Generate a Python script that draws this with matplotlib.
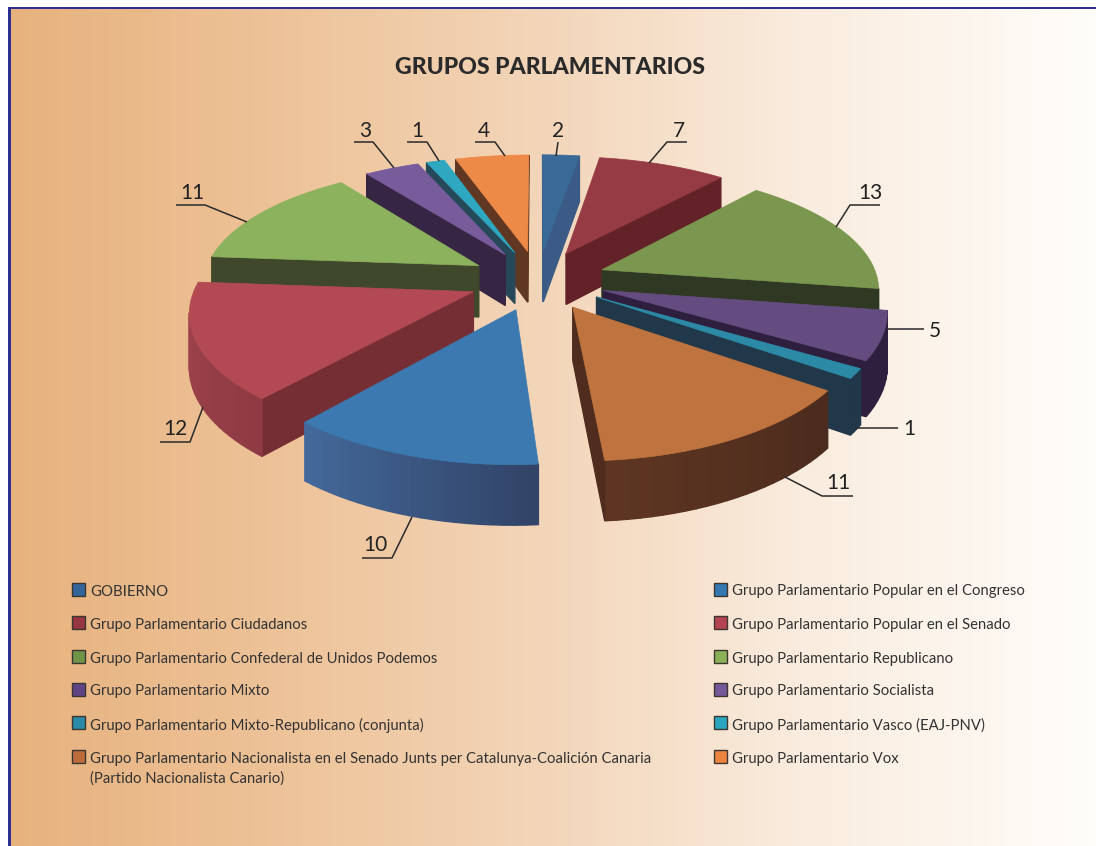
import numpy as np
import matplotlib
matplotlib.use("Agg")
import matplotlib.pyplot as plt
from matplotlib.patches import Rectangle
from matplotlib.colors import to_rgb

# ---- data
series_names = ["GOBIERNO", "Grupo Parlamentario Ciudadanos",
    "Grupo Parlamentario Confederal de Unidos Podemos", "Grupo Parlamentario Mixto",
    "Grupo Parlamentario Mixto-Republicano (conjunta)",
    "Grupo Parlamentario Nacionalista en el Senado Junts per Catalunya-Coalición Canaria\n(Partido Nacionalista Canario)",
    "Grupo Parlamentario Popular en el Congreso", "Grupo Parlamentario Popular en el Senado",
    "Grupo Parlamentario Republicano", "Grupo Parlamentario Socialista",
    "Grupo Parlamentario Vasco (EAJ-PNV)", "Grupo Parlamentario Vox"]
values = [2, 7, 13, 5, 1, 11, 10, 12, 11, 3, 1, 4]
title = "GRUPOS PARLAMENTARIOS"

# ---- style
top_colors = ["#3a6a98", "#963b43", "#7a964f", "#654c80", "#2c8aa6", "#bf733e",
              "#3b79b0", "#b34a53", "#8cb25d", "#775b9a", "#2ea7c0", "#ee8a48"]
cut_colors = ["#3b5a86", "#622228", "#2f3822", "#2e1f3f", "#21384a", "#4f2c1e",
              "#3b5a86", "#752e34", "#3f482b", "#372643", "#26495a", "#603722"]
rim_from = ["#3b5a86", "#622228", "#2f3822", "#2e1f3f", "#21384a", "#4b2b1d",
            "#324468", "#8f3a44", "#3f482b", "#372643", "#26495a", "#603722"]
rim_to = ["#3b5a86", "#622228", "#2f3822", "#2e1f3f", "#21384a", "#5e3522",
          "#43699a", "#a3454d", "#3f482b", "#372643", "#26495a", "#603722"]
legend_colors = ["#33669a", "#963640", "#6f9449", "#5f4586", "#2a8aa8", "#bb6c3a",
                 "#3577b0", "#b34450", "#8ab058", "#74589a", "#2aa5bf", "#ec8440"]
paint_order = [11, 10, 9, 0, 1, 8, 2, 3, 4, 7, 5, 6]

W, H = 1096, 846
fig = plt.figure(figsize=(W / 100, H / 100), dpi=100)
ax = fig.add_axes([0, 0, 1, 1])
ax.set_xlim(0, W); ax.set_ylim(H, 0); ax.axis("off")
plt.rcParams["font.family"] = ["Lato", "DejaVu Sans"]

# background gradient and frame
stops_x = [10, 300, 550, 800, 1090]
stops_c = np.array([(231, 178, 126), (238, 196, 155), (243, 214, 186), (250, 236, 222), (255, 253, 250)]) / 255
xs = np.arange(10, W)
grad = np.stack([np.interp(xs, stops_x, stops_c[:, i]) for i in range(3)], axis=-1)[None, :, :]
ax.imshow(grad, extent=(10, W, H, 9), aspect="auto", zorder=0)
ax.set_xlim(0, W); ax.set_ylim(H, 0)
ax.add_patch(Rectangle((8, 7), 2.5, H, fc="#2e3192", ec="none", zorder=1))
ax.add_patch(Rectangle((8, 7), W, 2.5, fc="#2e3192", ec="none", zorder=1))

# perspective pie
CX, CY, RX, RY, PX, PY, EXP, H0 = 538, 280, 276, 120, 0.14, 0.158, 0.25, 52

def project(wx, wy, z=0.0):
    sx = 1 / (1 + PX * wy)
    sy = 1 / (1 + PY * wy)
    return CX + RX * wx * sx, CY - RY * wy * sy + z * H0 * sy ** 0.7

edges = np.cumsum([0] + values) / sum(values) * 2 * np.pi
z = 10
for i in paint_order:
    a0, a1 = edges[i], edges[i + 1]
    mid = (a0 + a1) / 2
    ox, oy = EXP * np.sin(mid), EXP * np.cos(mid)
    th = np.linspace(a0, a1, max(4, int((a1 - a0) * 30)))
    wx = np.r_[ox, ox + np.sin(th)]
    wy = np.r_[oy, oy + np.cos(th)]
    tx, ty = project(wx, wy)
    bx, by = project(wx, wy, 1.0)
    n = len(tx)
    c0, c1 = np.array(to_rgb(rim_from[i])), np.array(to_rgb(rim_to[i]))
    for k in range(n):
        m = (k + 1) % n
        if tx[m] - tx[k] >= 0:
            continue
        radial = k == 0 or m == 0
        col = cut_colors[i] if radial else c0 + (c1 - c0) * (k - 1) / max(1, n - 3)
        ax.fill([tx[k], tx[m], bx[m], bx[k]], [ty[k], ty[m], by[m], by[k]],
                fc=col, ec=col, lw=1.0, zorder=z)
    ax.fill(tx, ty, fc=top_colors[i], ec=top_colors[i], lw=0.5, zorder=z + 1)
    z += 2

# value labels with leader lines
leaders = [
    ([558, 556], [142, 156], 558, 131), ([687, 667, 649], [142, 142, 163], 679, 131),
    ([880, 850, 836], [205, 205, 227], 870, 193), ([924, 888], [329, 329], 935, 331),
    ([898, 855], [428, 428], 909, 429), ([853, 822, 785], [496, 496, 477], 838, 483),
    ([362, 392, 412], [558, 558, 517], 375, 545), ([160, 190, 203], [442, 442, 407], 175, 429),
    ([176, 205, 247], [205, 205, 222], 192, 193), ([354, 373, 394], [142, 142, 168], 365, 131),
    ([407, 427, 439], [142, 142, 161], 417, 131), ([475, 495, 505], [142, 142, 156], 484, 131)]
for v, (lx, ly, tx_, ty_) in zip(values, leaders):
    ax.plot(lx, ly, color="#2a2a2a", lw=1.1, zorder=60, solid_capstyle="butt")
    ax.text(tx_, ty_, str(v), ha="center", va="center", fontsize=15, color="#222222", zorder=61)

ax.text(550, 68, title, ha="center", va="center", fontsize=16.6, fontweight="black", color="#2a2a2a")

# legend
rows = [590, 623, 657, 690, 723, 757]
for j, name in enumerate(series_names):
    col, row = (0, j) if j < 6 else (1, j - 6)
    xsq = 72 if col == 0 else 714
    ax.add_patch(Rectangle((xsq, rows[row] - 7), 13, 13, fc=legend_colors[j], ec="#3d3530", lw=1, zorder=5))
    ax.text(xsq + 18.5, rows[row] - 5.5, name, ha="left", va="top", fontsize=10.7, color="#333333",
            linespacing=1.5, zorder=5)

fig.savefig("out.png", dpi=100)
